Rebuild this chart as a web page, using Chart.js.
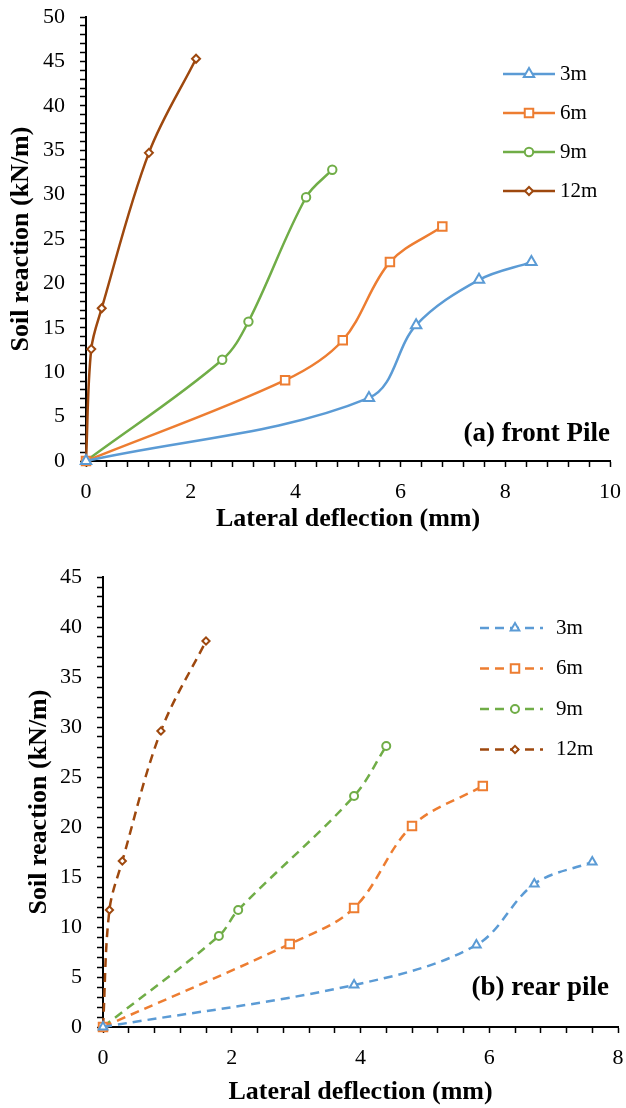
<!DOCTYPE html>
<html>
<head>
<meta charset="utf-8">
<script src="https://cdn.jsdelivr.net/npm/chart.js@4.4.1/dist/chart.umd.min.js"></script>
<style>
  html, body { margin: 0; padding: 0; background: #fff; }
  body { width: 626px; height: 1108px; position: relative; overflow: hidden; }
  canvas { position: absolute; left: 0; }
  #front { top: 0; }
  #rear { top: 545px; }
</style>
</head>
<body>
<canvas id="front" width="626" height="545"></canvas>
<canvas id="rear" width="626" height="563"></canvas>
<script>
var profundidades = ["3m", "6m", "9m", "12m"];
var cores = ["#5B9BD5", "#ED7D31", "#70AD47", "#9E480E"];
var marcadores = ["triangle", "rect", "circle", "rectRot"];

// (a) front pile
var front3mX = [0, 5.4, 6.3, 7.5, 8.5];
var front3mY = [0, 7.1, 15.3, 20.4, 22.4];
var front6mX = [0, 3.8, 4.9, 5.8, 6.8];
var front6mY = [0, 9.1, 13.6, 22.4, 26.4];
var front9mX = [0, 2.6, 3.1, 4.2, 4.7];
var front9mY = [0, 11.4, 15.7, 29.7, 32.8];
var front12mX = [0, 0.1, 0.3, 1.2, 2.1];
var front12mY = [0, 12.6, 17.2, 34.7, 45.3];

// (b) rear pile
var rear3mX = [0, 3.9, 5.8, 6.7, 7.6];
var rear3mY = [0, 4.2, 8.2, 14.3, 16.5];
var rear6mX = [0, 2.9, 3.9, 4.8, 5.9];
var rear6mY = [0, 8.3, 11.9, 20.1, 24.1];
var rear9mX = [0, 1.8, 2.1, 3.9, 4.4];
var rear9mY = [0, 9.1, 11.7, 23.1, 28.1];
var rear12mX = [0, 0.1, 0.3, 0.9, 1.6];
var rear12mY = [0, 11.7, 16.6, 29.6, 38.6];

var fonte = "'Liberation Serif', 'Times New Roman', serif";

function pontos(xs, ys) {
  return xs.map((x, i) => ({ x: x, y: ys[i] }));
}

function desenhaMarcador(ctx, estilo, r, x, y) {
  ctx.beginPath();
  if (estilo === "triangle") {
    ctx.moveTo(x, y - r);
    ctx.lineTo(x + r * 0.866, y + r * 0.5);
    ctx.lineTo(x - r * 0.866, y + r * 0.5);
    ctx.closePath();
  } else if (estilo === "rect") {
    var s = r * Math.SQRT1_2;
    ctx.rect(x - s, y - s, 2 * s, 2 * s);
  } else if (estilo === "circle") {
    ctx.arc(x, y, r, 0, Math.PI * 2);
  } else {
    ctx.moveTo(x - r, y);
    ctx.lineTo(x, y - r);
    ctx.lineTo(x + r, y);
    ctx.lineTo(x, y + r);
    ctx.closePath();
  }
  ctx.fill();
  ctx.stroke();
}

var legendaPlugin = {
  id: "legenda",
  afterDatasetsDraw(chart, args, opts) {
    var ctx = chart.ctx;
    ctx.save();
    chart.data.datasets.forEach((ds, i) => {
      var y = opts.y0 + i * opts.gap;
      ctx.strokeStyle = ds.borderColor;
      ctx.lineWidth = ds.borderWidth;
      ctx.setLineDash(ds.borderDash || []);
      ctx.beginPath();
      ctx.moveTo(opts.x0, y);
      ctx.lineTo(opts.x1, y);
      ctx.stroke();
      ctx.setLineDash([]);
      ctx.fillStyle = "#fff";
      ctx.lineWidth = ds.pointBorderWidth;
      desenhaMarcador(ctx, ds.pointStyle, ds.pointRadius, opts.xm, y);
      ctx.fillStyle = "#000";
      ctx.font = "21px " + fonte;
      ctx.textAlign = "left";
      ctx.textBaseline = "middle";
      ctx.fillText(ds.label, opts.xt, y);
    });
    ctx.font = "bold 27px " + fonte;
    ctx.fillStyle = "#000";
    ctx.textAlign = "right";
    ctx.textBaseline = "middle";
    ctx.fillText(opts.rotulo, opts.rx, opts.ry);
    ctx.restore();
  }
};

function montaDatasets(xs, ys, tracejado, raios) {
  return profundidades.map((p, i) => ({
    label: p,
    data: pontos(xs[i], ys[i]),
    borderColor: cores[i],
    backgroundColor: cores[i],
    borderWidth: 2.5,
    borderDash: tracejado,
    pointStyle: marcadores[i],
    pointRadius: raios[i],
    pointBorderWidth: 2,
    pointBorderColor: cores[i],
    pointBackgroundColor: "#fff",
    tension: 0.35,
    fill: false,
    clip: false
  }));
}

function criaGrafico(id, datasets, cfg) {
  return new Chart(document.getElementById(id), {
    type: "line",
    data: { datasets: datasets },
    options: {
      responsive: false,
      animation: false,
      layout: { padding: { top: cfg.top, right: cfg.right, left: 0, bottom: 0 } },
      plugins: {
        legend: { display: false },
        tooltip: { enabled: false },
        legenda: cfg.legenda
      },
      scales: {
        x: {
          type: "linear",
          min: 0,
          max: cfg.xMax,
          border: { color: "#000", width: 2 },
          grid: { drawOnChartArea: false, color: "#000", tickLength: 6, tickWidth: 1.5 },
          ticks: {
            stepSize: 0.4,
            autoSkip: false,
            maxRotation: 0,
            padding: cfg.xTickPad,
            color: "#000",
            font: { family: fonte, size: 22 },
            callback: v => (Math.round(v * 10) % 20 === 0 ? String(Math.round(v)) : "")
          },
          title: {
            display: true,
            text: "Lateral deflection (mm)",
            color: "#000",
            font: { family: fonte, size: 26, weight: "bold" },
            padding: { top: 0, bottom: cfg.xTitlePad }
          },
          afterFit: s => {
            s.height = cfg.xHeight;
            s.paddingLeft = 0;
            s.paddingRight = 0;
          }
        },
        y: {
          type: "linear",
          min: 0,
          max: cfg.yMax,
          border: { color: "#000", width: 2 },
          grid: { drawOnChartArea: false, color: "#000", tickLength: 6, tickWidth: 1.5 },
          ticks: {
            stepSize: 1,
            autoSkip: false,
            padding: 15,
            color: "#000",
            font: { family: fonte, size: 22 },
            callback: v => (v % 5 === 0 ? String(v) : "")
          },
          title: {
            display: true,
            text: "Soil reaction (kN/m)",
            color: "#000",
            font: { family: fonte, size: 26, weight: "bold" },
            padding: { top: cfg.yTitlePad, bottom: 0 }
          },
          afterFit: s => {
            s.width = cfg.yWidth;
            s.paddingTop = 0;
            s.paddingBottom = 0;
          }
        }
      }
    },
    plugins: [legendaPlugin]
  });
}

document.addEventListener("DOMContentLoaded", () => {
  criaGrafico("front",
    montaDatasets([front3mX, front6mX, front9mX, front12mX],
                  [front3mY, front6mY, front9mY, front12mY], [], [6, 6, 4.2, 4]),
    {
      xMax: 10, yMax: 50, top: 17, right: 16, yWidth: 86, xHeight: 84,
      xTickPad: 12, xTitlePad: 10, yTitlePad: 6,
      legenda: { x0: 503, x1: 555, xm: 529, xt: 560, y0: 74, gap: 39,
                 rotulo: "(a) front Pile", rx: 610, ry: 434 }
    });

  criaGrafico("rear",
    montaDatasets([rear3mX, rear6mX, rear9mX, rear12mX],
                  [rear3mY, rear6mY, rear9mY, rear12mY], [9, 6], [5, 6, 4, 3.6]),
    {
      xMax: 8, yMax: 45, top: 32, right: 4, yWidth: 103, xHeight: 81,
      xTickPad: 12, xTitlePad: 0, yTitlePad: 24,
      legenda: { x0: 480, x1: 543, xm: 515, xt: 556, y0: 83, gap: 40.5,
                 rotulo: "(b) rear pile", rx: 609, ry: 443 }
    });
});
</script>
</body>
</html>
